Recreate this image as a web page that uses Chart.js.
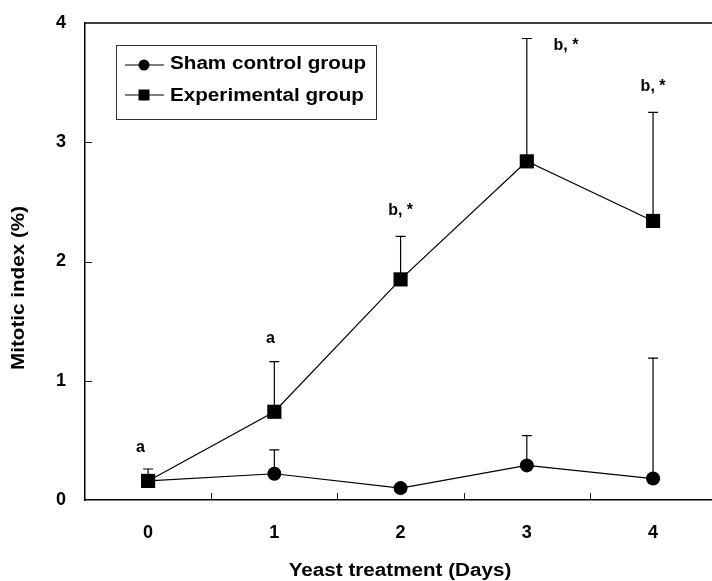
<!DOCTYPE html>
<html>
<head>
<meta charset="utf-8">
<script src="https://cdn.jsdelivr.net/npm/chart.js@4.4.0/dist/chart.umd.min.js"></script>
<style>
  html, body { margin: 0; padding: 0; background: #fff; }
  #chart { display: block; }
</style>
</head>
<body>
<canvas id="chart" width="712" height="581"></canvas>
<script>
// values
let days = [0, 1, 2, 3, 4]
let shamMean = [0.16, 0.22, 0.10, 0.29, 0.18]
let shamUpper = [null, 0.42, null, 0.54, 1.19]
let expMean = [0.16, 0.74, 1.85, 2.84, 2.34]
let expUpper = [0.26, 1.16, 2.21, 3.87, 3.25]

let noteText = ['a', 'a', 'b, *', 'b, *', 'b, *']
let noteX = [-0.06, 0.97, 2.0, 3.31, 4.0]
let noteY = [0.44, 1.35, 2.43, 3.81, 3.47]

let xTicks = [0, 1, 2, 3, 4]
let yTicks = [0, 1, 2, 3, 4]
let xMinor = [0.5, 1.5, 2.5, 3.5]
let yMinor = [1, 2, 3]

const FONT = '"Liberation Sans", Arial, sans-serif'

function stretchText(ctx, txt, x, y, size, sx, align) {
   ctx.save()
   ctx.font = 'bold ' + size + 'px ' + FONT
   ctx.textBaseline = 'middle'
   ctx.textAlign = align || 'left'
   ctx.translate(x, y)
   ctx.scale(sx, 1)
   ctx.fillText(txt, 0, 0)
   ctx.restore()
}

const extras = {
   id: 'extras',
   beforeDatasetsDraw(chart) {
      const ctx = chart.ctx
      const x = chart.scales.x, y = chart.scales.y
      const a = chart.chartArea
      ctx.save()
      ctx.strokeStyle = '#000'
      ctx.lineWidth = 1.5
      // top frame line
      ctx.beginPath()
      ctx.moveTo(a.left, a.top)
      ctx.lineTo(chart.width, a.top)
      ctx.stroke()
      // inner ticks
      ctx.lineWidth = 1
      ctx.strokeStyle = '#222'
      xMinor.forEach(v => {
         const px = Math.round(x.getPixelForValue(v)) + 0.5
         ctx.beginPath(); ctx.moveTo(px, a.bottom); ctx.lineTo(px, a.bottom - 7); ctx.stroke()
      })
      yMinor.forEach(v => {
         const py = Math.round(y.getPixelForValue(v)) + 0.5
         ctx.beginPath(); ctx.moveTo(a.left, py); ctx.lineTo(a.left + 7, py); ctx.stroke()
      })
      // error bars (upper only)
      ctx.strokeStyle = '#000'
      ctx.lineWidth = 1.2
      const bars = (mean, up) => {
         days.forEach((d, i) => {
            if (up[i] == null) return
            const px = x.getPixelForValue(d)
            const p0 = y.getPixelForValue(mean[i]), p1 = y.getPixelForValue(up[i])
            ctx.beginPath()
            ctx.moveTo(px, p0); ctx.lineTo(px, p1)
            ctx.moveTo(px - 5, p1); ctx.lineTo(px + 5, p1)
            ctx.stroke()
         })
      }
      bars(shamMean, shamUpper)
      bars(expMean, expUpper)
      ctx.restore()
   },
   afterDraw(chart) {
      const ctx = chart.ctx
      const x = chart.scales.x, y = chart.scales.y
      ctx.save()
      ctx.fillStyle = '#000'
      // significance letters
      noteText.forEach((t, i) => {
         stretchText(ctx, t, x.getPixelForValue(noteX[i]), y.getPixelForValue(noteY[i]), 16, 1, 'center')
      })
      // legend
      ctx.strokeStyle = '#333'
      ctx.lineWidth = 1
      ctx.strokeRect(116.5, 45.5, 260, 74)
      ctx.strokeStyle = '#000'
      ctx.lineWidth = 1.2
      ;[65, 95].forEach(ly => {
         ctx.beginPath(); ctx.moveTo(125, ly); ctx.lineTo(164, ly); ctx.stroke()
      })
      ctx.beginPath(); ctx.arc(144, 65, 5.5, 0, Math.PI * 2); ctx.fill()
      ctx.fillRect(138.5, 89.5, 11, 11)
      stretchText(ctx, 'Sham control group', 170, 64, 17.5, 1.18)
      stretchText(ctx, 'Experimental group', 170, 96, 17.5, 1.18)
      // axis titles
      stretchText(ctx, 'Yeast treatment (Days)', 400, 571, 17.5, 1.18, 'center')
      ctx.save()
      ctx.translate(19, 288)
      ctx.rotate(-Math.PI / 2)
      stretchText(ctx, 'Mitotic index (%)', 0, 0, 17.5, 1.18, 'center')
      ctx.restore()
      ctx.restore()
   }
}

let chart = new Chart(document.getElementById('chart'), {
   type: 'line',
   data: {
      datasets: [
         {label: 'Experimental group', data: days.map((d, i) => ({x: d, y: expMean[i]})),
          borderColor: '#000', borderWidth: 1.2, pointStyle: 'rect', pointRadius: 10,
          pointBackgroundColor: '#000', pointBorderWidth: 0},
         {label: 'Sham control group', data: days.map((d, i) => ({x: d, y: shamMean[i]})),
          borderColor: '#000', borderWidth: 1.2, pointStyle: 'circle', pointRadius: 7,
          pointBackgroundColor: '#000', pointBorderWidth: 0}
      ]
   },
   options: {
      responsive: false,
      animation: false,
      devicePixelRatio: 1,
      layout: {autoPadding: false, padding: {top: 23, right: 0, left: 0, bottom: 0}},
      plugins: {legend: {display: false}, tooltip: {enabled: false}},
      scales: {
         x: {
            type: 'linear', min: -0.5, max: 4.467,
            afterBuildTicks: s => { s.ticks = xTicks.map(v => ({value: v})) },
            afterFit: s => { s.height = 81 },
            grid: {display: false, drawTicks: true, tickLength: 22},
            border: {display: true, color: '#000', width: 1.5},
            ticks: {color: '#000', padding: 0, font: {family: FONT, size: 18, weight: 'bold'}}
         },
         y: {
            min: 0, max: 4,
            afterBuildTicks: s => { s.ticks = yTicks.map(v => ({value: v})) },
            afterFit: s => { s.width = 85 },
            grid: {display: false, drawTicks: true, tickLength: 19},
            border: {display: true, color: '#000', width: 1.5},
            ticks: {color: '#000', padding: 0, font: {family: FONT, size: 18, weight: 'bold'}}
         }
      }
   },
   plugins: [extras]
})
</script>
</body>
</html>
